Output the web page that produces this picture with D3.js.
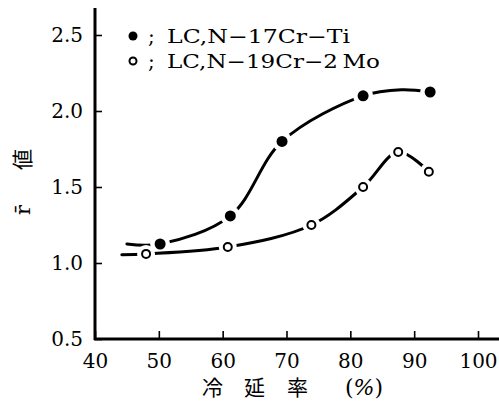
<!DOCTYPE html>
<html>
<head>
<meta charset="utf-8">
<script src="https://cdn.jsdelivr.net/npm/d3@7"></script>
<style>
  body { margin: 0; background: #fff; }
  svg { display: block; }
  text { font-family: "DejaVu Serif", "Liberation Serif", serif; fill: #000; }
  .cjk { font-family: "Noto Sans CJK JP", "Noto Sans CJK SC", sans-serif; }
</style>
</head>
<body>
<div id="chart"></div>
<script>
// cold rolling reduction (%) vs r-bar value
var xTicks = [40, 50, 60, 70, 80, 90, 100];
var yTicks = [0.5, 1.0, 1.5, 2.0, 2.5];

var tiLabel = "LC,N\u221217Cr\u2212Ti";
var moLabel = "LC,N\u221219Cr\u22122\u2009Mo";

// measured points
var tiX = [50.2, 61.2, 69.3, 82.0, 92.5];
var tiY = [1.125, 1.31, 1.80, 2.10, 2.125];
var moX = [48.0, 60.8, 73.9, 82.0, 87.5, 92.3];
var moY = [1.06, 1.105, 1.25, 1.50, 1.73, 1.60];

// hand-drawn fit curves (start a bit left of the first point)
var tiCurveX = [45.0, 50.2, 61.2, 69.3, 82.0, 88.0, 92.5];
var tiCurveY = [1.125, 1.125, 1.31, 1.80, 2.10, 2.14, 2.125];
var moCurveX = [44.2, 48.0, 60.8, 73.9, 82.0, 87.5, 92.3];
var moCurveY = [1.055, 1.06, 1.105, 1.25, 1.50, 1.73, 1.60];

var width = 499, height = 403;

var svg = d3.select("#chart").append("svg")
  .attr("width", width)
  .attr("height", height);

var x = d3.scaleLinear().domain([40, 100]).range([95, 478]);
var y = d3.scaleLinear().domain([0.5, 2.5]).range([339, 35]);

// axes: ticks point inward
var xAxis = svg.append("g")
  .attr("transform", "translate(0," + y(0.5) + ")")
  .call(d3.axisBottom(x).tickValues(xTicks).tickSize(-8).tickPadding(18).tickFormat(d3.format("d")));
xAxis.select(".domain").remove();
xAxis.selectAll(".tick line").attr("stroke", "#000").attr("stroke-width", 1.6);
xAxis.selectAll(".tick text").attr("font-size", 20).attr("font-family", "DejaVu Serif").attr("dy", "0.55em");

var yAxis = svg.append("g")
  .attr("transform", "translate(" + x(40) + ",0)")
  .call(d3.axisLeft(y).tickValues(yTicks).tickSize(-7).tickPadding(12).tickFormat(d3.format(".1f")));
yAxis.select(".domain").remove();
yAxis.selectAll(".tick line").attr("stroke", "#000").attr("stroke-width", 1.6);
yAxis.selectAll(".tick text").attr("font-size", 20).attr("font-family", "DejaVu Serif");

// axis lines
svg.append("line")
  .attr("x1", x(40)).attr("x2", x(40))
  .attr("y1", y(0.5) + 1).attr("y2", 8)
  .attr("stroke", "#000").attr("stroke-width", 3);
svg.append("line")
  .attr("x1", x(40) - 1).attr("x2", width)
  .attr("y1", y(0.5)).attr("y2", y(0.5))
  .attr("stroke", "#000").attr("stroke-width", 3);

// curves
var line = d3.line()
  .x(function(d) { return x(d[0]); })
  .y(function(d) { return y(d[1]); })
  .curve(d3.curveCatmullRom.alpha(0.5));

function drawSeries(cx, cy, px, py, filled) {
  var curve = d3.zip(cx, cy);
  var pts = d3.zip(px, py);
  svg.append("path")
    .datum(curve)
    .attr("d", line)
    .attr("fill", "none")
    .attr("stroke", "#000")
    .attr("stroke-width", 3)
    .attr("stroke-linecap", "round");
  // white halo breaks the curve around each marker
  svg.selectAll(null).data(pts).enter().append("circle")
    .attr("cx", function(d) { return x(d[0]); })
    .attr("cy", function(d) { return y(d[1]); })
    .attr("r", filled ? 10 : 9)
    .attr("fill", "#fff");
  svg.selectAll(null).data(pts).enter().append("circle")
    .attr("cx", function(d) { return x(d[0]); })
    .attr("cy", function(d) { return y(d[1]); })
    .attr("r", filled ? 5.5 : 4)
    .attr("fill", filled ? "#000" : "#fff")
    .attr("stroke", "#000")
    .attr("stroke-width", filled ? 0 : 2);
}

drawSeries(tiCurveX, tiCurveY, tiX, tiY, true);
drawSeries(moCurveX, moCurveY, moX, moY, false);

// legend
var legend = svg.append("g");
legend.append("circle").attr("cx", 133).attr("cy", 36).attr("r", 4.5).attr("fill", "#000");
legend.append("circle").attr("cx", 133).attr("cy", 61).attr("r", 3.5)
  .attr("fill", "#fff").attr("stroke", "#000").attr("stroke-width", 2);
legend.append("text").attr("x", 148).attr("y", 43).attr("font-size", 20).text(";");
legend.append("text").attr("x", 148).attr("y", 68).attr("font-size", 20).text(";");
legend.append("text").attr("x", 167).attr("y", 43).attr("font-size", 19)
  .attr("textLength", 183).attr("lengthAdjust", "spacingAndGlyphs").text(tiLabel);
legend.append("text").attr("x", 167).attr("y", 68).attr("font-size", 19)
  .attr("textLength", 213).attr("lengthAdjust", "spacingAndGlyphs").text(moLabel);

// x axis title
var xt = svg.append("text").attr("class", "cjk").attr("y", 395).attr("font-size", 21);
xt.append("tspan").attr("x", 202).text("冷");
xt.append("tspan").attr("x", 244).text("延");
xt.append("tspan").attr("x", 287).text("率");
xt.append("tspan").attr("x", 345).attr("font-family", "DejaVu Serif").attr("font-size", 22).text("(");
xt.append("tspan").attr("font-family", "DejaVu Serif").attr("font-style", "italic").attr("font-size", 22).text("%");
xt.append("tspan").attr("font-family", "DejaVu Serif").attr("font-size", 22).text(")");

// y axis title, rotated
var yt = svg.append("text")
  .attr("transform", "translate(30,215) rotate(-90)")
  .attr("font-size", 21);
yt.append("tspan").attr("x", 0).attr("font-family", "DejaVu Serif").text("r\u0304");
yt.append("tspan").attr("class", "cjk").attr("x", 45).text("値");
</script>
</body>
</html>
